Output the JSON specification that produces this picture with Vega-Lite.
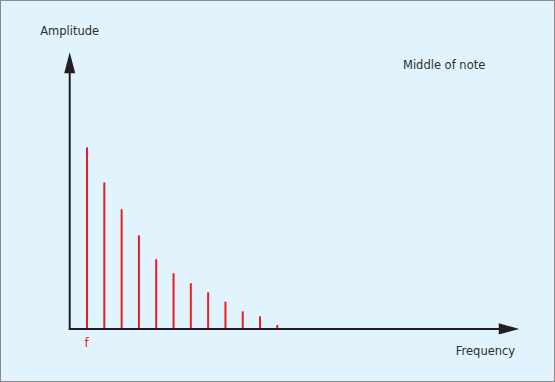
{
  "$schema": "https://vega.github.io/schema/vega-lite/v6.json",
  "width": 555,
  "height": 382,
  "autosize": {"type": "fit", "contains": "padding"},
  "padding": 0,
  "background": "#E1F4FE",
  "config": {"view": {"stroke": "#8a8a8a", "strokeWidth": 2, "fill": "#E1F4FE"}},
  "layer": [
    {
      "data": {"values": [
        {"n": 1, "amp": 1.0},
        {"n": 2, "amp": 0.807},
        {"n": 3, "amp": 0.659},
        {"n": 4, "amp": 0.516},
        {"n": 5, "amp": 0.384},
        {"n": 6, "amp": 0.307},
        {"n": 7, "amp": 0.252},
        {"n": 8, "amp": 0.202},
        {"n": 9, "amp": 0.150},
        {"n": 10, "amp": 0.097},
        {"n": 11, "amp": 0.070},
        {"n": 12, "amp": 0.022}
      ]},
      "mark": {"type": "rule", "color": "#ED1C24", "strokeWidth": 2},
      "encoding": {
        "x": {"field": "n", "type": "quantitative", "scale": {"domain": [-4.03, 28.05], "nice": false, "zero": false}, "axis": null},
        "y": {"field": "amp", "type": "quantitative", "scale": {"domain": [-0.292, 1.811], "nice": false, "zero": false}, "axis": null},
        "y2": {"datum": 0}
      }
    },
    {
      "data": {"values": [{"axis": "y"}]},
      "mark": {"type": "rule", "color": "#231F20", "strokeWidth": 2},
      "encoding": {
        "x": {"datum": 0, "type": "quantitative"},
        "y": {"datum": -0.006, "type": "quantitative"},
        "y2": {"datum": 1.43}
      }
    },
    {
      "data": {"values": [{"axis": "x"}]},
      "mark": {"type": "rule", "color": "#231F20", "strokeWidth": 2},
      "encoding": {
        "x": {"datum": -0.05, "type": "quantitative"},
        "x2": {"datum": 25.0},
        "y": {"datum": 0, "type": "quantitative"}
      }
    },
    {
      "data": {"values": [{"arrow": "y"}]},
      "mark": {"type": "point", "filled": true, "color": "#231F20", "opacity": 1, "size": 441, "shape": "M-0.524,1L0,-1L0.524,1Z"},
      "encoding": {
        "x": {"datum": 0, "type": "quantitative"},
        "y": {"datum": 1.465, "type": "quantitative"}
      }
    },
    {
      "data": {"values": [{"arrow": "x"}]},
      "mark": {"type": "point", "filled": true, "color": "#231F20", "opacity": 1, "size": 420, "shape": "M-1,-0.55L1,0L-1,0.55Z"},
      "encoding": {
        "x": {"datum": 25.39, "type": "quantitative"},
        "y": {"datum": 0, "type": "quantitative"}
      }
    },
    {
      "data": {"values": [
        {"label": "Amplitude", "xp": 0, "yp": 1.635},
        {"label": "Middle of note", "xp": 21.64, "yp": 1.45},
        {"label": "Frequency", "xp": 24.03, "yp": -0.128}
      ]},
      "mark": {"type": "text", "font": "DejaVu Sans", "fontSize": 11.5, "color": "#2e2e2e", "align": "center", "baseline": "middle"},
      "encoding": {
        "x": {"field": "xp", "type": "quantitative"},
        "y": {"field": "yp", "type": "quantitative"},
        "text": {"field": "label"}
      }
    },
    {
      "data": {"values": [{"label": "f", "xp": 0.97, "yp": -0.075}]},
      "mark": {"type": "text", "font": "DejaVu Sans", "fontSize": 12, "color": "#ED1C24", "align": "center", "baseline": "middle"},
      "encoding": {
        "x": {"field": "xp", "type": "quantitative"},
        "y": {"field": "yp", "type": "quantitative"},
        "text": {"field": "label"}
      }
    }
  ]
}
